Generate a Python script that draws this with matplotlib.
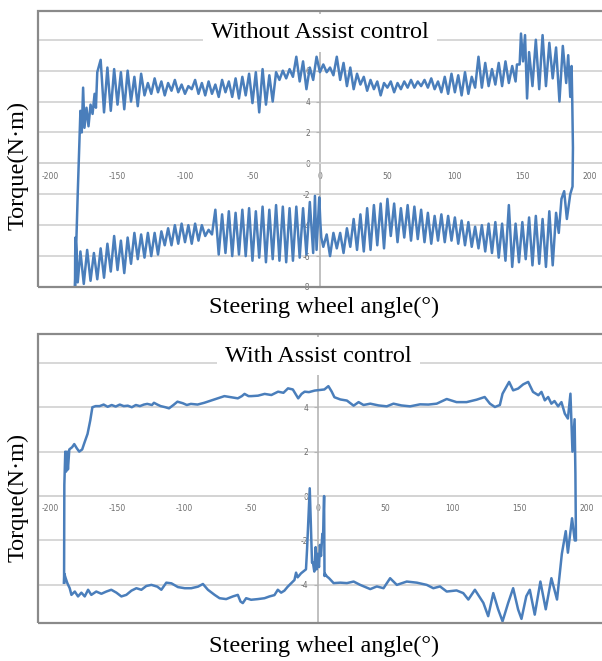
import matplotlib
matplotlib.use("Agg")
import matplotlib.pyplot as plt
from matplotlib.patches import Rectangle

# ---- data (angle in deg, torque in N*m) ----

# Without assist control: upper branch, left -> right
no_assist_upper_angle = [
    -181.5, -179.5, -178.3, -177.5, -176.5, -175.5, -174.5, -173, -171.5, -170, -168.5, -167, -166, -165,
    -162.5, -160, -157.5, -155, -152.5, -150, -147.5, -145, -142.5, -140,
    -137.5, -135, -132.5, -130, -127.5, -125, -122.5, -120, -117.5, -115,
    -112.5, -110, -107.5, -105, -102.5, -100, -97.5, -95, -92.5, -90,
    -87.5, -85, -82.5, -80, -77.5, -75, -72.5, -70, -67.5, -65,
    -62.5, -60, -57.5, -55, -52.5, -50, -47.5, -45, -42.5, -40,
    -37.5, -35, -32.5, -30, -27.5, -25, -22.5, -20, -17.5, -15,
    -12.5, -10, -7.5, -5, -2.5, 0, 2.5, 5, 7.5, 10,
    12.5, 15, 17.5, 20, 22.5, 25, 27.5, 30, 32.5, 35,
    37.5, 40, 42.5, 45, 47.5, 50, 52.5, 55, 57.5, 60,
    62.5, 65, 67.5, 70, 72.5, 75, 77.5, 80, 82.5, 85,
    87.5, 90, 92.5, 95, 97.5, 100, 102.5, 105, 107.5, 110,
    112.5, 115, 117.5, 120, 122.5, 125, 127.5, 130, 132.5, 135,
    137.5, 140, 142.5, 145,
    146, 148, 149, 150.5, 152, 153.5, 155, 157.5, 160, 162.5, 165, 167.5,
    170, 172.5, 175, 177.5, 180, 182.5, 184, 185.5, 186.5, 187, 187.5,
]
no_assist_upper_torque = [
    -8.0, -2.0, 1.3, 3.4, 2.0, 4.9, 2.3, 3.6, 2.4, 3.8, 3.2, 4.5, 3.6, 5.9,
    6.7, 3.3, 6.2, 3.4, 6.1, 3.8, 5.9, 3.5, 6.0, 4.0,
    5.6, 3.7, 5.8, 4.4, 5.2, 4.5, 5.5, 4.6, 5.3, 4.4,
    5.2, 4.7, 5.4, 4.6, 5.1, 4.5, 5.0, 4.8, 5.4, 4.5,
    5.2, 4.4, 5.3, 4.5, 5.1, 4.3, 5.4, 4.6, 5.3, 4.3,
    5.5, 4.2, 5.6, 4.4, 5.8, 3.9, 5.9, 3.3, 6.1, 3.8,
    5.7, 4.0, 5.9, 5.4, 6.0, 5.5, 6.1, 5.6, 6.9, 5.3,
    6.6, 4.8, 6.2, 5.4, 6.9, 5.9, 6.4, 5.9, 6.2, 5.7,
    6.9, 5.4, 6.5, 5.0, 6.2, 4.8, 5.8, 5.1, 5.6, 4.7,
    5.4, 4.8, 5.3, 4.4, 5.2, 4.9, 5.3, 4.6, 5.2, 4.8,
    5.3, 4.9, 5.4, 4.9, 5.3, 5.0, 5.4, 4.9, 5.5, 4.8,
    5.3, 4.6, 5.6, 4.5, 5.8, 4.6, 5.7, 4.4, 5.9, 4.5,
    5.6, 4.9, 6.9, 4.9, 6.5, 5.0, 6.1, 5.1, 6.5, 5.0,
    6.6, 5.2, 6.3, 5.3,
    6.4, 6.4, 8.4, 6.6, 8.3, 4.2, 7.2, 5.0, 8.0, 4.8, 8.3, 5.0,
    7.8, 5.5, 7.5, 4.0, 7.6, 5.2, 7.0, 4.3, 6.3, 4.0, 1.0,
]

# Without assist control: lower branch, right -> left
no_assist_lower_angle = [
    187.2, 185.5, 183, 181, 179, 177,
    175, 172.5, 170, 167.5, 165, 162.5, 160, 157.5, 155, 152.5,
    150, 147.5, 145, 142.5, 140, 137.5, 135, 132.5, 130, 127.5,
    125, 122.5, 120, 117.5, 115, 112.5, 110, 107.5, 105, 102.5,
    100, 97.5, 95, 92.5, 90, 87.5, 85, 82.5, 80, 77.5,
    75, 72.5, 70, 67.5, 65, 62.5, 60, 57.5, 55, 52.5,
    50, 47.5, 45, 42.5, 40, 37.5, 35, 32.5, 30, 27.5,
    25, 22.5, 20, 17.5, 15, 12.5, 10, 7.5, 5, 2.5,
    1, 0.3, -0.5,
    -2.5, -3.7, -5, -7.5, -10, -12.5, -15, -17.5, -20, -22.5,
    -25, -27.5, -30, -32.5, -35, -37.5, -40, -42.5, -45, -47.5,
    -50, -52.5, -55, -57.5, -60, -62.5, -65, -67.5, -70, -72.5,
    -75, -77.5, -80, -82.5, -85, -87.5, -90, -92.5, -95, -97.5,
    -100, -102.5, -105, -107.5, -110, -112.5, -115, -117.5, -120, -122.5,
    -125, -127.5, -130, -132.5, -135, -137.5, -140, -142.5, -145, -147.5,
    -150, -152.5, -155, -157.5, -160, -162.5, -165, -167.5, -170, -172.5,
    -175, -177.5,
    -179.5, -180.5, -181.2, -181.4, -181.5,
]
no_assist_lower_torque = [
    -1.5, -2.0, -3.6, -1.8, -2.3, -4.5,
    -3.2, -6.6, -3.1, -6.7, -3.6, -6.5, -3.4, -6.6, -3.5, -6.2,
    -3.8, -6.4, -3.9, -6.7, -2.7, -6.3, -3.9, -6.1, -3.8, -5.8,
    -3.9, -5.7, -4.0, -5.5, -4.1, -5.4, -3.8, -5.3, -3.7, -5.2,
    -3.5, -5.0, -3.4, -5.1, -3.3, -5.0, -3.4, -5.2, -3.2, -5.1,
    -3.0, -4.9, -2.8, -5.0, -2.7, -4.8, -2.9, -5.1, -2.6, -4.7,
    -2.3, -5.5, -2.6, -5.3, -2.7, -5.6, -2.9, -5.7, -3.3, -5.6,
    -3.6, -5.4, -4.2, -5.8, -4.5, -5.5, -4.5, -6.0, -4.6, -5.4,
    -4.8, -3.8, -2.2,
    -5.6, -2.1, -5.8, -2.5, -5.9, -2.9, -6.1, -2.8, -6.3, -2.9,
    -6.4, -2.8, -6.3, -2.7, -6.2, -3.0, -6.4, -2.8, -6.1, -3.1,
    -6.3, -2.9, -6.0, -3.0, -5.9, -3.2, -6.0, -3.1, -5.8, -3.3,
    -5.9, -3.0, -4.6, -4.3, -4.7, -4.0, -5.0, -3.9, -5.2, -4.0,
    -5.1, -3.9, -5.2, -4.0, -5.3, -4.2, -5.3, -4.4, -5.9, -4.5,
    -6.0, -4.5, -6.1, -4.6, -6.2, -4.5, -6.5, -4.8, -7.1, -5.0,
    -6.9, -4.7, -7.0, -5.2, -7.4, -5.5, -7.5, -5.8, -7.6, -5.6,
    -7.8, -5.7,
    -7.7, -5.6, -4.8, -6.1, -8.0,
]

# With assist control: upper branch, left -> right
assist_upper_angle = [
    -189.5, -189.3, -188.6, -188.0, -187.3, -186.6, -185.6, -183.5, -181.9, -180,
    -178.2, -176, -174.5, -172, -170, -168.4, -166,
    -163, -160, -157, -154, -151, -148, -145, -142, -139, -136,
    -133, -130, -127.5, -124, -122.5, -120, -117.5, -114, -111.3, -108,
    -105, -101, -98, -95, -90, -85, -80, -75, -70, -65,
    -60, -57, -55, -52, -50, -45, -40, -35, -30, -26,
    -22.6, -19, -16.5, -15, -12.5, -10.2, -7, -2.7, 1.5, 4.5,
    7.5, 10, 12, 16.4, 21.3, 26.3, 30, 33.7, 38.7, 45,
    51, 56, 62, 68.4, 75.8, 82, 88.2, 95.7, 103, 110.5,
    118, 124, 127.9, 131.6, 135.3, 137.3, 142.2, 145.2, 148.9, 152.7,
    156.4, 160, 164, 166.3, 168.8, 171.3, 173.7, 176, 178.7, 181.2,
    183.7, 186, 187.9, 189.4, 191, 191.6,
]
assist_upper_torque = [
    -3.9, 0.5, 2.0, 1.1, 2.0, 1.2, 2.1, 2.2, 2.34, 2.15,
    2.0, 2.1, 2.37, 2.8, 3.4, 4.0, 4.05,
    4.05, 4.12, 4.02, 4.1, 4.03, 4.12, 4.05, 4.07, 4.0, 4.1,
    4.05, 4.12, 4.15, 4.1, 4.2, 4.12, 4.05, 4.0, 3.95, 4.1,
    4.25, 4.18, 4.1, 4.15, 4.12, 4.2, 4.3, 4.4, 4.5, 4.45,
    4.4, 4.5, 4.6, 4.5, 4.5, 4.52, 4.6, 4.55, 4.7, 4.65,
    4.85, 4.8, 4.55, 4.4, 4.6, 4.7, 4.68, 4.75, 4.78, 4.8,
    4.95, 4.7, 4.45, 4.35, 4.3, 4.07, 4.23, 4.1, 4.16, 4.08,
    4.04, 4.16, 4.08, 4.04, 4.13, 4.12, 4.16, 4.37, 4.23, 4.23,
    4.34, 4.46, 4.16, 4.01, 4.1, 4.61, 5.14, 4.76, 4.84, 5.03,
    5.14, 4.69, 4.54, 4.69, 4.31, 4.46, 4.16, 4.28, 4.04, 4.23,
    3.71, 3.49, 4.61, 2.0, 3.46, 1.0,
]

# With assist control: lower branch, right -> left
assist_lower_angle = [
    192, 191.1, 189.1, 186, 184.4, 181.5, 177.9, 173.7, 169.5, 165.5,
    161.3, 157.6, 155, 151.4, 148.9, 145.2, 141.5, 137.3, 134, 130.4,
    126.6, 123, 116.7, 111.8, 108, 103, 95.7, 90.7, 85.7, 80.8,
    73.4, 65.9, 58.5, 53.5, 48.6, 43.6, 38.7, 31.2, 26.3, 21.3,
    16.4, 11.4, 8, 6.4, 5, 4.6, 4.3, 3.5, 3, 2,
    1.2, 0.5, -0.5, -1.2, -2, -3, -4, -4.7, -6.4, -8.4,
    -9.2, -12.9, -15.4, -16.6, -17.8, -20.3, -22.8, -25.3, -27.7, -30.2,
    -32.7, -36.4, -40.1, -45.1, -50.1, -53.8, -56.3, -58, -60, -63.7,
    -68.7, -73.6, -77.3, -82.3, -86, -89.7, -94.7, -99.6, -104.6, -109.5,
    -113.3, -117, -120, -124.4, -128.2, -131.9, -135.6, -139.3, -143.1, -146.8,
    -150.5, -154.3, -158, -161.7, -165.5, -169.2, -171.6, -174.1, -176.6, -179.1,
    -181.5, -184, -185.3, -187, -188.3, -189.3, -189.5,
]
assist_lower_torque = [
    -2.0, -2.0, -1.0, -2.55, -1.58, -2.6, -4.66, -3.7, -5.1, -3.85,
    -5.34, -4.22, -4.51, -5.53, -5.11, -4.15, -4.81, -5.64, -5.1, -4.37,
    -5.41, -4.81, -4.22, -4.66, -4.37, -4.25, -4.3, -4.07, -4.15, -4.0,
    -3.9, -3.85, -4.0, -3.7, -4.15, -4.07, -4.19, -4.0, -3.85, -3.92,
    -3.9, -3.92, -3.7, -3.62, -3.5, -3.6, 0.0, -1.9, -1.7, -2.7,
    -2.2, -3.2, -2.6, -3.3, -2.3, -3.4, -3.0, -3.0, 0.35, -2.4,
    -3.3, -3.48, -3.66, -3.45, -3.78, -3.93, -4.08, -4.26, -4.35, -4.22,
    -4.46, -4.52, -4.6, -4.64, -4.67, -4.6, -4.82, -4.75, -4.45, -4.52,
    -4.64, -4.6, -4.45, -4.22, -3.96, -4.08, -4.15, -4.15, -4.1, -3.93,
    -3.9, -4.22, -4.08, -4.0, -4.05, -4.22, -4.15, -4.26, -4.45, -4.52,
    -4.35, -4.22, -4.3, -4.4, -4.3, -4.45, -4.22, -4.52, -4.35, -4.52,
    -4.3, -4.45, -4.15, -3.93, -3.7, -3.5, -3.9,
]

x_ticks = [-200, -150, -100, -50, 0, 50, 100, 150, 200]

LINE = "#4a7ebb"
GRID = "#d4d4d4"
TICK_TXT = "#6e6e6e"
SERIF = ["Liberation Serif", "DejaVu Serif"]

W, H = 602, 661
fig = plt.figure(figsize=(W / 100, H / 100), dpi=100)


def px_axes(left, top, right, bottom):
    return fig.add_axes([left / W, 1 - bottom / H, (right - left) / W, (bottom - top) / H])


def draw_panel(ax, angle, torque, xlim, ylim, yticks, hidden_top, title, title_y):
    ax.plot(angle, torque, color=LINE, lw=1.8, zorder=3, solid_joinstyle="round")
    ax.set_xlim(*xlim)
    ax.set_ylim(*ylim)
    ax.set_xticks(x_ticks)
    ax.set_xticklabels([str(v) for v in x_ticks])
    ax.set_yticks(yticks)
    # the top gridline's label sits under the title box, so it is not shown
    ax.set_yticklabels(["" if v == hidden_top else str(v) for v in yticks])
    ax.yaxis.grid(True, color=GRID, lw=1.3, zorder=0)
    ax.set_axisbelow(True)
    for side in ("top", "right"):
        ax.spines[side].set_visible(False)
    ax.spines["left"].set_position(("data", 0))
    ax.spines["bottom"].set_position(("data", 0))
    ax.spines["left"].set_color("#b5b5b5")
    ax.spines["left"].set_linewidth(1.2)
    ax.spines["bottom"].set_color(GRID)
    ax.spines["bottom"].set_linewidth(1.3)
    ax.tick_params(axis="x", length=0, pad=6, labelsize=5.5, labelcolor=TICK_TXT)
    ax.tick_params(axis="y", length=3, width=0.8, color="#b5b5b5", pad=4,
                   labelsize=5.5, labelcolor=TICK_TXT)
    frame = Rectangle((0, 0), 1, 1, transform=ax.transAxes, fill=False,
                      edgecolor="#8a8a8a", lw=1.6, clip_on=False, zorder=5)
    ax.add_patch(frame)
    ax.text(0, title_y, title, ha="center", va="center", fontsize=17.5, family=SERIF,
            zorder=6, bbox=dict(facecolor="white", edgecolor="none", pad=6))


ax1 = px_axes(37.5, 11, 606, 287.3)
draw_panel(ax1, no_assist_upper_angle + no_assist_lower_angle,
           no_assist_upper_torque + no_assist_lower_torque,
           (-209.3, 212), (-8.02, 9.86), [-8, -6, -4, -2, 0, 2, 4, 6, 8], 8,
           "Without Assist control", 8.45)

ax2 = px_axes(37.5, 333.5, 606, 623.3)
draw_panel(ax2, assist_upper_angle + assist_lower_angle,
           assist_upper_torque + assist_lower_torque,
           (-209.3, 214.4), (-5.73, 7.32), [-4, -2, 0, 2, 4, 6], 6,
           "With Assist control", 6.3)

for yc in (165, 497):
    fig.text(18 / W, 1 - yc / H, "Torque(N\u00b7m)", rotation=90, ha="center", va="center",
             fontsize=17.5, family=SERIF)
for yc in (307, 646):
    fig.text(324 / W, 1 - yc / H, "Steering wheel angle(\u00b0)", ha="center", va="center",
             fontsize=17.5, family=SERIF)

fig.savefig("out.png", dpi=100)
